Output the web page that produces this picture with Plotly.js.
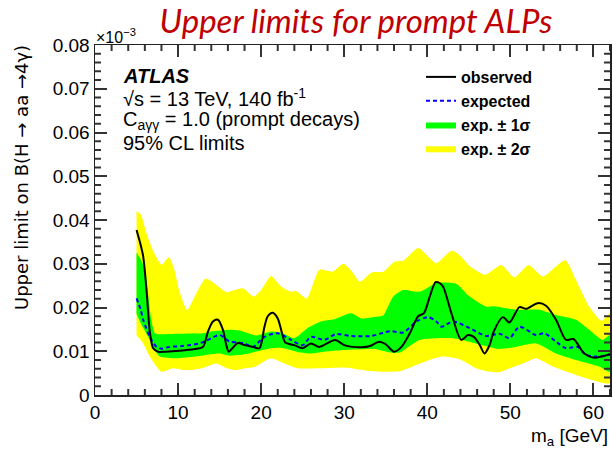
<!DOCTYPE html>
<html>
<head>
<meta charset="utf-8">
<script src="https://cdn.plot.ly/plotly-3.0.1.min.js"></script>
<style>
  html, body { margin: 0; padding: 0; background: #ffffff; }
  #chart { width: 613px; height: 455px; }
</style>
</head>
<body>
<div id="chart"></div>
<script>
// ALP mass points (GeV) and 95% CL upper limits on B(H -> aa -> 4 gamma)

// +-2 sigma band edges
const band2UpperMass = [5.0, 5.5, 6.2, 7.0, 8.0, 8.9, 9.5, 10.2, 11.1, 12.0, 13.3, 14.6, 15.8, 16.8, 17.8, 19.1, 20.0, 21.2, 22.4, 23.6, 24.2, 25.5, 27.0, 28.6, 29.9, 30.8, 31.9, 33.3, 34.7, 36.1, 37.1, 38.9, 40.2, 41.1, 42.9, 44.0, 45.1, 47.0, 48.9, 50.5, 52.2, 53.9, 56.6, 57.9, 59.5, 61.0, 62.0];
const band2UpperLimit = [0.0420, 0.0413, 0.0370, 0.0330, 0.0298, 0.0315, 0.0290, 0.0235, 0.0194, 0.0225, 0.0266, 0.0252, 0.0235, 0.0240, 0.0244, 0.0225, 0.0240, 0.0272, 0.0248, 0.0236, 0.0238, 0.0221, 0.0286, 0.0282, 0.0300, 0.0285, 0.0259, 0.0280, 0.0282, 0.0305, 0.0307, 0.0336, 0.0315, 0.0301, 0.0330, 0.0318, 0.0295, 0.0275, 0.0297, 0.0269, 0.0297, 0.0271, 0.0308, 0.0263, 0.0202, 0.0170, 0.0187];
const band2LowerMass = [5.0, 5.8, 6.6, 7.4, 8.0, 9.4, 10.4, 11.4, 13.0, 14.6, 15.8, 17.0, 18.0, 19.2, 21.2, 22.8, 24.4, 27.0, 30.0, 33.0, 35.0, 36.8, 39.1, 40.5, 41.9, 43.9, 45.9, 47.5, 48.7, 49.9, 51.5, 53.1, 55.1, 57.9, 60.7, 62.0];
const band2LowerLimit = [0.0137, 0.0118, 0.0088, 0.0065, 0.0053, 0.0061, 0.0058, 0.0057, 0.0062, 0.0072, 0.0062, 0.0057, 0.0061, 0.0064, 0.0084, 0.0072, 0.0061, 0.0061, 0.0063, 0.0055, 0.0053, 0.0055, 0.0072, 0.0082, 0.0088, 0.0082, 0.0061, 0.0053, 0.0052, 0.0061, 0.0072, 0.0084, 0.0065, 0.0046, 0.0030, 0.0027];

// +-1 sigma band edges
const band1UpperMass = [5.0, 5.5, 6.0, 6.4, 6.8, 7.2, 7.8, 10.0, 13.0, 14.0, 16.2, 17.5, 19.4, 21.2, 22.5, 24.0, 25.6, 27.2, 28.8, 30.8, 32.1, 33.7, 34.7, 35.9, 37.1, 39.1, 41.1, 43.5, 45.1, 47.1, 48.0, 50.7, 53.5, 55.5, 57.9, 59.5, 61.1, 62.0];
const band1UpperLimit = [0.0326, 0.0310, 0.0290, 0.0230, 0.0170, 0.0142, 0.0139, 0.0140, 0.0141, 0.0145, 0.0149, 0.0147, 0.0136, 0.0145, 0.0142, 0.0130, 0.0153, 0.0168, 0.0173, 0.0187, 0.0175, 0.0179, 0.0182, 0.0225, 0.0240, 0.0236, 0.0256, 0.0254, 0.0225, 0.0202, 0.0203, 0.0195, 0.0195, 0.0183, 0.0172, 0.0149, 0.0126, 0.0137];
const band1LowerMass = [5.0, 5.6, 6.4, 7.2, 7.8, 9.8, 12.0, 15.0, 16.2, 18.0, 21.2, 22.4, 24.5, 26.0, 28.0, 30.0, 33.7, 35.5, 36.7, 37.5, 39.1, 43.1, 45.1, 47.0, 48.7, 50.7, 53.1, 55.5, 57.9, 60.7, 62.0];
const band1LowerLimit = [0.0185, 0.0160, 0.0133, 0.0103, 0.0088, 0.0084, 0.0088, 0.0095, 0.0090, 0.0093, 0.0107, 0.0108, 0.0098, 0.0095, 0.0100, 0.0103, 0.0105, 0.0097, 0.0097, 0.0107, 0.0126, 0.0130, 0.0122, 0.0112, 0.0105, 0.0110, 0.0118, 0.0095, 0.0080, 0.0065, 0.0053];

// observed limit
const observedMass = [5.0, 5.4, 5.8, 6.2, 6.6, 7.0, 7.6, 8.5, 10.2, 12.0, 13.0, 13.6, 14.2, 14.8, 15.4, 15.8, 16.1, 16.6, 17.2, 18.0, 19.0, 19.8, 20.4, 20.8, 21.4, 22.0, 22.6, 22.9, 24.0, 25.0, 26.0, 27.0, 28.9, 30.0, 31.0, 32.1, 33.1, 34.2, 35.0, 36.0, 36.9, 37.9, 38.9, 39.6, 40.3, 41.0, 41.4, 41.9, 42.9, 44.1, 44.9, 45.6, 46.3, 46.9, 47.5, 48.0, 49.1, 49.9, 51.1, 51.9, 53.3, 54.3, 55.5, 56.7, 57.6, 58.9, 60.1, 61.0, 62.0];
const observedLimit = [0.0377, 0.0350, 0.0317, 0.0240, 0.0145, 0.0107, 0.0099, 0.0099, 0.0101, 0.0105, 0.0110, 0.0145, 0.0168, 0.0172, 0.0149, 0.0115, 0.0099, 0.0108, 0.0119, 0.0114, 0.0110, 0.0107, 0.0156, 0.0180, 0.0188, 0.0175, 0.0135, 0.0120, 0.0114, 0.0107, 0.0118, 0.0110, 0.0126, 0.0114, 0.0110, 0.0109, 0.0112, 0.0122, 0.0116, 0.0099, 0.0110, 0.0141, 0.0180, 0.0187, 0.0225, 0.0258, 0.0257, 0.0248, 0.0187, 0.0126, 0.0137, 0.0133, 0.0115, 0.0095, 0.0114, 0.0145, 0.0178, 0.0166, 0.0201, 0.0197, 0.0210, 0.0204, 0.0172, 0.0126, 0.0128, 0.0095, 0.0085, 0.0088, 0.0094];

// expected limit
const expectedMass = [5.0, 5.5, 5.8, 6.6, 7.4, 8.0, 9.0, 10.5, 12.6, 13.5, 15.0, 16.2, 17.2, 18.0, 19.0, 20.4, 22.0, 23.6, 25.0, 26.0, 27.6, 29.0, 30.8, 33.3, 35.5, 37.1, 38.7, 40.1, 41.1, 41.7, 43.1, 45.1, 47.1, 48.7, 49.9, 51.1, 53.1, 54.1, 55.5, 56.7, 58.1, 59.1, 60.3, 62.0];
const expectedLimit = [0.0221, 0.0195, 0.0172, 0.0133, 0.0110, 0.0106, 0.0110, 0.0112, 0.0118, 0.0125, 0.0137, 0.0122, 0.0120, 0.0118, 0.0110, 0.0133, 0.0141, 0.0126, 0.0114, 0.0133, 0.0126, 0.0139, 0.0135, 0.0135, 0.0146, 0.0143, 0.0168, 0.0178, 0.0168, 0.0156, 0.0168, 0.0153, 0.0135, 0.0140, 0.0130, 0.0156, 0.0137, 0.0141, 0.0122, 0.0107, 0.0110, 0.0092, 0.0088, 0.0092];

// axis ticks (labels follow the default formatting: 0, 0.01, ... 0.08)
const xTickValues = [0, 10, 20, 30, 40, 50, 60];
const yTickValues = [0, 0.01, 0.02, 0.03, 0.04, 0.05, 0.06, 0.07, 0.08];
const xRange = [0, 62];
const yRange = [0, 0.08];

// legend names
const seriesNames = ['observed', 'expected', 'exp. \u00b1 1\u03c3', 'exp. \u00b1 2\u03c3'];

// closed polygon from an upper and a lower edge
function bandPolygon(upX, upY, loX, loY) {
  return {
    x: upX.concat(loX.slice().reverse()),
    y: upY.concat(loY.slice().reverse())
  };
}

const band2 = bandPolygon(band2UpperMass, band2UpperLimit, band2LowerMass, band2LowerLimit);
const band1 = bandPolygon(band1UpperMass, band1UpperLimit, band1LowerMass, band1LowerLimit);

const FONT = 'Liberation Sans, Arial, Helvetica, sans-serif';

const traces = [
  {
    x: band2.x, y: band2.y, type: 'scatter', mode: 'lines',
    fill: 'toself', fillcolor: '#ffff00',
    line: { width: 0, shape: 'spline', smoothing: 0.6, color: '#ffff00' },
    name: seriesNames[3], hoverinfo: 'skip'
  },
  {
    x: band1.x, y: band1.y, type: 'scatter', mode: 'lines',
    fill: 'toself', fillcolor: '#00ff00',
    line: { width: 0, shape: 'spline', smoothing: 0.6, color: '#00ff00' },
    name: seriesNames[2], hoverinfo: 'skip'
  },
  {
    x: expectedMass, y: expectedLimit, type: 'scatter', mode: 'lines',
    line: { color: '#0000ff', width: 2, dash: '4px,3px', shape: 'spline', smoothing: 0.8 },
    name: seriesNames[1], hoverinfo: 'skip'
  },
  {
    x: observedMass, y: observedLimit, type: 'scatter', mode: 'lines',
    line: { color: '#000000', width: 2, shape: 'spline', smoothing: 0.8 },
    name: seriesNames[0], hoverinfo: 'skip'
  }
];

// plot area: x 95..610 px, y 45..395 px
const L = 95, R = 3, T = 45, B = 60, W = 613, H = 455;
const pw = W - L - R, ph = H - T - B;
const px = v => (v - L) / pw;
const py = v => (H - B - v) / ph;

// minor ticks (5 per major interval) on all four sides, pointing inwards
const TICK_COLOR = '#333333';
const SUBDIV = 5, MINOR_LEN = 6;
function minorValues(major, lo, hi) {
  const step = (major[1] - major[0]) / SUBDIV;
  const out = [];
  for (let i = 0; ; i++) {
    const v = major[0] + i * step;
    if (v > hi + step * 1e-6) break;
    if (i % SUBDIV !== 0 && v >= lo) out.push(v);
  }
  return out;
}
const minorStyle = { color: TICK_COLOR, width: 2 };
const minorShapes = [];
minorValues(xTickValues, xRange[0], xRange[1]).forEach(v => {
  const h = MINOR_LEN / ph;
  minorShapes.push({ type: 'line', xref: 'x', yref: 'paper', x0: v, x1: v, y0: 0, y1: h, line: minorStyle, layer: 'above' });
  minorShapes.push({ type: 'line', xref: 'x', yref: 'paper', x0: v, x1: v, y0: 1, y1: 1 - h, line: minorStyle, layer: 'above' });
});
minorValues(yTickValues, yRange[0], yRange[1]).forEach(v => {
  const w = MINOR_LEN / pw;
  minorShapes.push({ type: 'line', xref: 'paper', yref: 'y', x0: 0, x1: w, y0: v, y1: v, line: minorStyle, layer: 'above' });
  minorShapes.push({ type: 'line', xref: 'paper', yref: 'y', x0: 1, x1: 1 - w, y0: v, y1: v, line: minorStyle, layer: 'above' });
});

// ROOT-style frame with major ticks mirrored on all sides
const axisCommon = {
  showline: true, linecolor: '#222222', linewidth: 1.5, mirror: 'allticks',
  ticks: 'inside', ticklen: 12, tickwidth: 2, tickcolor: TICK_COLOR,
  showgrid: false, zeroline: false,
  tickfont: { family: FONT, size: 19, color: '#000000' }
};

const layout = {
  width: W, height: H,
  margin: { l: L, r: R, t: T, b: B, pad: 0 },
  paper_bgcolor: '#ffffff', plot_bgcolor: '#ffffff',
  showlegend: true,
  title: {
    text: 'Upper limits for prompt ALPs',
    font: { family: 'Lato, Open Sans, sans-serif', size: 33, color: '#c00000', style: 'italic' },
    x: 356 / W, xanchor: 'center', xref: 'container',
    y: 1 - 21 / H, yanchor: 'middle', yref: 'container'
  },
  xaxis: Object.assign({}, axisCommon, {
    range: xRange, tickmode: 'linear', tick0: xTickValues[0], dtick: xTickValues[1] - xTickValues[0]
  }),
  yaxis: Object.assign({}, axisCommon, {
    range: yRange, tickmode: 'linear', tick0: yTickValues[0], dtick: yTickValues[1] - yTickValues[0]
  }),
  legend: {
    x: px(421), xanchor: 'left', y: py(60), yanchor: 'top',
    bgcolor: 'rgba(0,0,0,0)', borderwidth: 0,
    traceorder: 'reversed',
    font: { family: FONT, size: 16, color: '#000000', weight: 'bold' }
  },
  shapes: minorShapes,
  annotations: [
    { text: '\u00d710<sup>\u22123</sup>', xref: 'paper', yref: 'paper', x: px(94), y: py(36),
      xanchor: 'left', yanchor: 'middle', showarrow: false,
      font: { family: FONT, size: 16, color: '#000000' } },
    { text: 'Upper limit on B(H \u2192 aa \u21924\u03b3)', xref: 'paper', yref: 'paper',
      x: px(21), y: py(178), xanchor: 'center', yanchor: 'middle', textangle: -90, showarrow: false,
      font: { family: 'DejaVu Sans, ' + FONT, size: 18, color: '#000000' } },
    { text: 'm<sub>a</sub> [GeV]', xref: 'paper', yref: 'paper', x: px(610), y: py(437),
      xanchor: 'right', yanchor: 'middle', showarrow: false,
      font: { family: FONT, size: 19, color: '#000000' } },
    { text: '<b><i>ATLAS</i></b>', xref: 'paper', yref: 'paper', x: px(121), y: py(76),
      xanchor: 'left', yanchor: 'middle', showarrow: false,
      font: { family: FONT, size: 20, color: '#000000' } },
    { text: '\u221as = 13 TeV, 140 fb<sup>-1</sup>', xref: 'paper', yref: 'paper', x: px(121), y: py(97),
      xanchor: 'left', yanchor: 'middle', showarrow: false,
      font: { family: FONT, size: 20, color: '#000000' } },
    { text: 'C<sub>a\u03b3\u03b3</sub> = 1.0 (prompt decays)', xref: 'paper', yref: 'paper', x: px(121), y: py(120),
      xanchor: 'left', yanchor: 'middle', showarrow: false,
      font: { family: FONT, size: 20, color: '#000000' } },
    { text: '95% CL limits', xref: 'paper', yref: 'paper', x: px(121), y: py(143),
      xanchor: 'left', yanchor: 'middle', showarrow: false,
      font: { family: FONT, size: 20, color: '#000000' } }
  ]
};

Plotly.newPlot('chart', traces, layout, { staticPlot: true, displayModeBar: false });
</script>
</body>
</html>
